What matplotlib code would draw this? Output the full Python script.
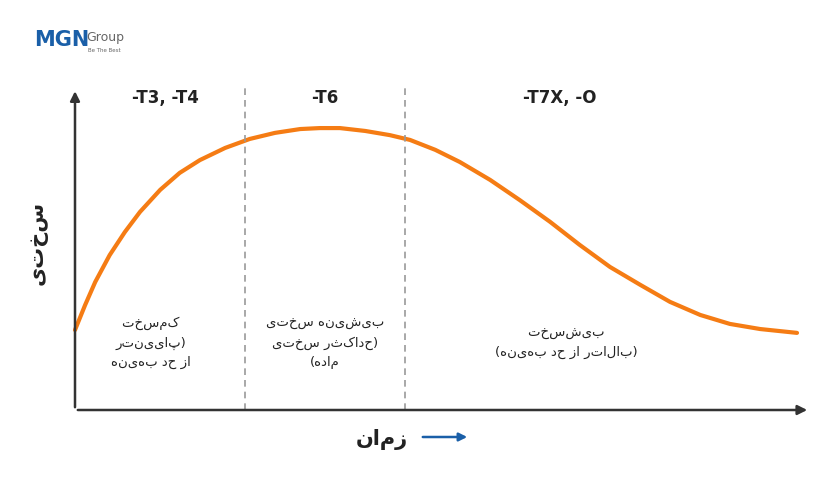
import matplotlib
matplotlib.use("Agg")
import matplotlib.pyplot as plt

time_x = [0.0, 1.4, 2.8, 4.8, 6.9, 9.0, 11.8, 14.5, 17.3, 20.8, 24.2, 27.7, 31.2, 33.9, 36.7, 40.2, 43.6, 46.4, 49.9, 53.3, 57.5, 61.6, 65.8, 69.9, 74.1, 78.3, 82.4, 86.6, 90.7, 94.9, 100.0]
hardness = [25.0, 32.8, 40.0, 48.4, 55.6, 61.9, 68.8, 74.1, 78.1, 81.9, 84.7, 86.6, 87.8, 88.1, 88.1, 87.2, 85.9, 84.4, 81.3, 77.5, 71.9, 65.6, 58.8, 51.6, 44.7, 39.1, 33.8, 29.7, 26.9, 25.3, 24.1]
boundaries = [23.5, 45.7]
tempers = ["-T3, -T4", "-T6", "-T7X, -O"]
temper_x = [12.5, 34.6, 67.2]
zone_texts = ["کم‌سخت\n(پایین‌تر\nاز حد بهینه", "بیشینه سختی\n(حداکثر سختی\nماده)", "بیش‌سخت\n(بالاتر از حد بهینه)"]
zone_x = [10.5, 34.6, 68]
xlabel = "زمان"
ylabel = "سختی"

swap = str.maketrans("()", ")(")
def vis(s):
    return "\n".join(line[::-1].translate(swap) for line in s.split("\n"))

plt.rcParams['font.family'] = ['DejaVu Sans']
fig = plt.figure(figsize=(8.34, 5), dpi=100)
ax = fig.add_axes([75/834, 90/500, 722/834, 320/500])
ax.set_xlim(0, 100); ax.set_ylim(0, 100)
ax.axis('off')

ax.plot(time_x, hardness, color='#f57c14', lw=3, solid_capstyle='round', solid_joinstyle='round', clip_on=False)
for b in boundaries:
    ax.plot([b, b], [0, 101.5], ls=(0, (4, 3)), color='#999999', lw=1.2, clip_on=False)
ax.annotate('', xy=(101.8, 0), xytext=(0, 0), arrowprops=dict(arrowstyle='-|>', color='#333333', lw=1.8, mutation_scale=14), annotation_clip=False)
ax.annotate('', xy=(0, 100.5), xytext=(0, 0), arrowprops=dict(arrowstyle='-|>', color='#333333', lw=1.8, mutation_scale=14), annotation_clip=False)

for t, x in zip(tempers, temper_x):
    ax.text(x, 97.5, t, ha='center', va='center', fontsize=12, fontweight='bold', color='#222222', clip_on=False)
for t, x in zip(zone_texts, zone_x):
    ax.text(x, 21, vis(t), ha='center', va='center', fontsize=9.5, color='#222222', linespacing=1.6)

fig.text(382/834, 1-440/500, vis(xlabel), ha='center', va='center', fontsize=15, fontweight='bold', color='#222222')
ax.annotate('', xy=(470/834, 1-437/500), xytext=(420/834, 1-437/500), xycoords='figure fraction',
            arrowprops=dict(arrowstyle='-|>', color='#1a5fa8', lw=1.8, mutation_scale=12), annotation_clip=False)
fig.text(38/834, 1-243/500, vis(ylabel), ha='center', va='center', fontsize=15, fontweight='bold', color='#222222', rotation=90)

fig.text(34/834, 1-40/500, "MGN", ha='left', va='center', fontsize=15, fontweight='bold', color='#1a5fa8')
fig.text(86/834, 1-38/500, "Group", ha='left', va='center', fontsize=9, color='#666666')
fig.text(88/834, 1-51/500, "Be The Best", ha='left', va='center', fontsize=4, color='#666666')

fig.savefig('out.png', dpi=100, facecolor='white')
